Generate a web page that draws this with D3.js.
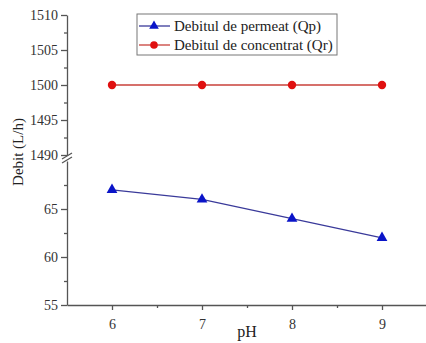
<!DOCTYPE html>
<html>
<head>
<meta charset="utf-8">
<script src="https://cdn.jsdelivr.net/npm/d3@7"></script>
<style>
  body { margin: 0; background: #fff; }
  svg text { font-family: "Liberation Serif", "Times New Roman", serif; }
</style>
</head>
<body>
<svg id="chart" width="426" height="343"></svg>
<script>
// data
var phValues = [6, 7, 8, 9];
var permeat = [67, 66, 64, 62];
var concentrat = [1500, 1500, 1500, 1500];
var lowTicks = [55, 60, 65];
var highTicks = [1490, 1495, 1500, 1505, 1510];
var seriesNames = ["Debitul de permeat (Qp)", "Debitul de concentrat (Qr)"];

var svg = d3.select("#chart"),
    cs = {
        pallette: {
            axis: "#555",
            text: "#333",
            blueLine: "#3a3a9a",
            blueFill: "#0a14c8",
            redLine: "#c8403a",
            redFill: "#e01010"
        },
        left: 67, right: 427, bottom: 305
    };

cs.x = d3.scaleLinear().domain([5.5, 9.5]).range([cs.left, cs.right]);
cs.yLow = d3.scaleLinear().domain([55, 70]).range([cs.bottom, 161]);
cs.yHigh = d3.scaleLinear().domain([1490, 1510]).range([155, 15]);

var fmt = d3.format("d");

// x axis
var xAxis = svg.append("g")
    .attr("transform", "translate(0," + cs.bottom + ")")
    .call(d3.axisBottom(cs.x).tickValues(phValues).tickFormat(fmt).tickSize(5).tickSizeOuter(0));
svg.append("g")
    .attr("transform", "translate(0," + cs.bottom + ")")
    .call(d3.axisBottom(cs.x).tickValues([6.5, 7.5, 8.5]).tickFormat("").tickSize(3).tickSizeOuter(0))
    .select(".domain").remove();

// y axes (broken)
svg.append("g")
    .attr("transform", "translate(" + cs.left + ",0)")
    .call(d3.axisLeft(cs.yLow).tickValues(lowTicks).tickFormat(fmt).tickSize(6).tickSizeOuter(0));
svg.append("g")
    .attr("transform", "translate(" + cs.left + ",0)")
    .call(d3.axisLeft(cs.yLow).tickValues([57.5, 62.5, 67.5]).tickFormat("").tickSize(3).tickSizeOuter(0))
    .select(".domain").remove();
svg.append("g")
    .attr("transform", "translate(" + cs.left + ",0)")
    .call(d3.axisLeft(cs.yHigh).tickValues(highTicks).tickFormat(fmt).tickSize(6).tickSizeOuter(0));
svg.append("g")
    .attr("transform", "translate(" + cs.left + ",0)")
    .call(d3.axisLeft(cs.yHigh).tickValues([1492.5, 1497.5, 1502.5, 1507.5]).tickFormat("").tickSize(3).tickSizeOuter(0))
    .select(".domain").remove();

svg.selectAll("g").attr("font-family", null).attr("font-size", null);
svg.selectAll(".domain, .tick line").attr("stroke", cs.pallette.axis).attr("stroke-width", 1.3);
svg.selectAll(".tick text")
    .attr("fill", cs.pallette.text)
    .style("font-size", "14px");
xAxis.selectAll(".tick text").attr("dy", "1.15em");

// break marks
var breakY = (cs.yHigh(1490) + cs.yLow(70)) / 2;
svg.append("rect")
    .attr("x", cs.left - 2).attr("y", breakY - 2)
    .attr("width", 4).attr("height", 4).attr("fill", "#fff");
[-2, 2].forEach(function (o) {
    svg.append("line")
        .attr("x1", cs.left - 5).attr("y1", breakY + o + 3)
        .attr("x2", cs.left + 5).attr("y2", breakY + o - 3)
        .attr("stroke", cs.pallette.axis).attr("stroke-width", 1.3);
});

// axis titles
svg.append("text")
    .attr("transform", "translate(23,152) rotate(-90)")
    .attr("text-anchor", "middle")
    .attr("fill", "#222")
    .style("font-size", "15px")
    .text("Debit (L/h)");
svg.append("text")
    .attr("x", 247).attr("y", 337)
    .attr("text-anchor", "middle")
    .attr("fill", "#222")
    .style("font-size", "16px")
    .text("pH");

// series
var dsBlue = phValues.map(function (p, i) { return { x: p, y: permeat[i] }; });
var dsRed = phValues.map(function (p, i) { return { x: p, y: concentrat[i] }; });

var lineLow = d3.line().x(d => cs.x(d.x)).y(d => cs.yLow(d.y));
var lineHigh = d3.line().x(d => cs.x(d.x)).y(d => cs.yHigh(d.y));

svg.append("path").datum(dsRed)
    .attr("fill", "none").attr("stroke", cs.pallette.redLine).attr("stroke-width", 1.5)
    .attr("d", lineHigh);
svg.append("path").datum(dsBlue)
    .attr("fill", "none").attr("stroke", cs.pallette.blueLine).attr("stroke-width", 1.2)
    .attr("d", lineLow);

var tri = d3.symbol().type(d3.symbolTriangle).size(50);
svg.selectAll(".pt-blue").data(dsBlue).enter().append("path")
    .attr("class", "pt-blue")
    .attr("d", tri)
    .attr("transform", d => "translate(" + cs.x(d.x) + "," + cs.yLow(d.y) + ")")
    .attr("fill", cs.pallette.blueFill);
svg.selectAll(".pt-red").data(dsRed).enter().append("circle")
    .attr("class", "pt-red")
    .attr("cx", d => cs.x(d.x)).attr("cy", d => cs.yHigh(d.y))
    .attr("r", 4.2)
    .attr("fill", cs.pallette.redFill);

// legend
var lg = svg.append("g").attr("transform", "translate(137,14)");
lg.append("rect").attr("width", 200).attr("height", 41)
    .attr("fill", "#fff").attr("stroke", "#777").attr("stroke-width", 1);
var legendItems = [
    { name: seriesNames[0], line: cs.pallette.blueLine, fill: cs.pallette.blueFill, shape: "tri" },
    { name: seriesNames[1], line: cs.pallette.redLine, fill: cs.pallette.redFill, shape: "circle" }
];
legendItems.forEach(function (it, i) {
    var y = 12 + i * 19;
    lg.append("line").attr("x1", 2).attr("x2", 33).attr("y1", y).attr("y2", y)
        .attr("stroke", it.line).attr("stroke-width", 1.3);
    if (it.shape === "tri") {
        lg.append("path").attr("d", d3.symbol().type(d3.symbolTriangle).size(40))
            .attr("transform", "translate(17," + y + ")").attr("fill", it.fill);
    } else {
        lg.append("circle").attr("cx", 17).attr("cy", y).attr("r", 3.8).attr("fill", it.fill);
    }
    lg.append("text").attr("x", 37).attr("y", y + 5)
        .attr("fill", "#222")
        .style("font-size", "15px")
        .text(it.name);
});
</script>
</body>
</html>
